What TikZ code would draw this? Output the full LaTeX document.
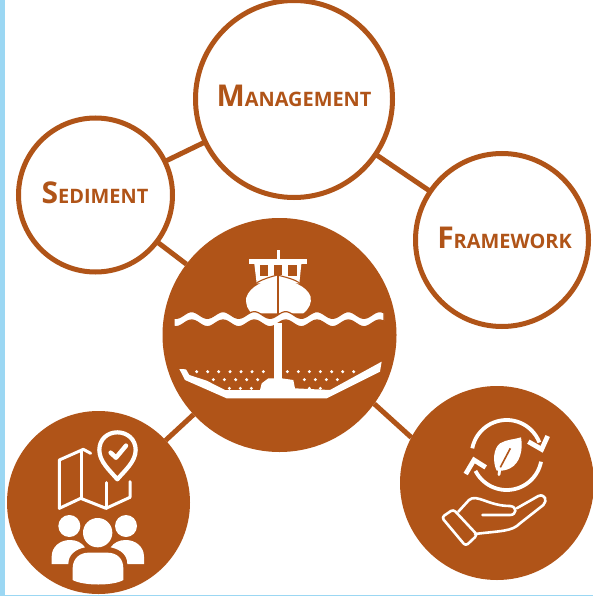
\documentclass[tikz,border=0pt]{standalone}
\usepackage{fontspec}
\setmainfont{Open Sans}
\definecolor{rust}{HTML}{B05418}
\definecolor{strip}{HTML}{9BD7F3}
\newcommand{\titlecap}[2]{{\fontsize{30}{30}\selectfont #1}{\fontsize{19.9}{19.9}\selectfont\MakeUppercase{#2}}}
\tikzset{
  ring/.style={circle,draw=rust,fill=white,line width=5pt,inner sep=0pt,outer sep=0pt},
  disc/.style={circle,fill=rust,inner sep=0pt,outer sep=0pt},
  word/.style={anchor=base,inner sep=0pt,text=rust,font=\bfseries},
  link/.style={draw=rust,line width=5pt},
  icon/.style={draw=white,line width=3pt,line cap=round,line join=round}
}
\begin{document}
\begin{tikzpicture}[x=1pt,y=-1pt]
      \useasboundingbox (0,0) rectangle (593,596);
      \clip (0,0) rectangle (593,596);
      \fill[white] (0,0) rectangle (593,596);
      \fill[strip] (0,0) rectangle (5,596);
      \fill[strip] (0,595) rectangle (593,596);
      \draw[draw=none]
        (95.5,195) node[ring,minimum size=154pt] (sediment){}
        (294,99) node[ring,minimum size=197pt] (management){}
        (502,240) node[ring,minimum size=173pt] (framework){}
        (279.5,335) node[disc,minimum size=234pt] (ship){}
        (98.5,502.5) node[disc,minimum size=183pt] (people){}
        (497,483) node[disc,minimum size=194pt] (hand){};
      \begin{scope}[-]
        \draw[link] (sediment) to (management);
        \draw[link] (management) to (framework);
        \draw[link] (sediment) to (ship);
        \draw[link] (ship) to (people);
        \draw[link] (ship.-36) to (hand.152);
      \end{scope}
      \draw[draw=none]
        (95,203) node[word] (sedimentword){\titlecap{S}{ediment}}
        (294,107) node[word] (managementword){\titlecap{M}{anagement}}
        (504.5,248) node[word] (frameworkword){\titlecap{F}{ramework}};
      % ship, seabed
      \begin{scope}[shift={(160,215)},scale=1/3]
        \fill[white] (350,105) rectangle (359,135);
        \fill[white] (268,133) rectangle (440,147);
        \fill[white] (283,147) -- (424,147) -- (418,205) -- (290,205) -- cycle;
        \fill[rust] (300,150) rectangle (325,182);
        \fill[rust] (342,150) rectangle (367,180);
        \fill[rust] (384,150) rectangle (410,182);
        \fill[white] (352,188) .. controls (315,198) and (270,210) .. (258,250)
          .. controls (258,270) and (262,282) .. (275,295)
          -- (430,295) .. controls (448,280) and (455,265) .. (452,245)
          .. controls (440,212) and (395,198) .. (356,188) -- cycle;
        \draw[rust,line width=1.1pt] (354,180) -- (354,300);
        \draw[rust,line width=1.1pt] (290,203) .. controls (310,192) and (330,186) .. (352,180)
          .. controls (375,186) and (400,192) .. (418,203);
        \filldraw[fill=white,draw=rust,line width=1.2pt]
          plot[domain=42:672,samples=120] (\x,{300-10*cos(3.83*(\x-95))})
          -- plot[domain=672:42,samples=120] (\x,{325-10*cos(3.83*(\x-95))}) -- cycle;
        \fill[white] (342,325) rectangle (365,500);
        \fill[white] (58,462) -- (78,463) -- (88,480) -- (140,497) -- (195,525) -- (300,525)
          -- (305,505) -- (325,490) -- (342,490) -- (365,490) -- (400,495) -- (405,520)
          -- (510,525) -- (665,440) -- (660,470) -- (500,550) -- (200,550) -- (75,495) -- cycle;
        \fill[white] (110,470) circle[radius=5] (143,470) circle[radius=5] (176,470) circle[radius=5]
          (210,470) circle[radius=5] (243,470) circle[radius=5] (276,470) circle[radius=5]
          (310,470) circle[radius=5] (382,470) circle[radius=5] (415,470) circle[radius=5]
          (448,470) circle[radius=5] (481,470) circle[radius=5] (515,470) circle[radius=5]
          (548,470) circle[radius=5] (581,470) circle[radius=5];
        \fill[white] (160,494) circle[radius=5] (193,494) circle[radius=5] (227,494) circle[radius=5]
          (260,494) circle[radius=5] (293,494) circle[radius=5] (433,494) circle[radius=5]
          (466,494) circle[radius=5] (499,494) circle[radius=5] (532,494) circle[radius=5];
        \fill[white] (208,520) circle[radius=5] (241,520) circle[radius=5] (274,520) circle[radius=5]
          (448,520) circle[radius=5] (481,520) circle[radius=5];
      \end{scope}
      % map, pin, group
      \begin{scope}[shift={(0,400)},scale=1/3]
        \draw[icon] (178,325) -- (178,180) -- (250,148) -- (272,160);
        \draw[icon] (245,150) -- (245,295);
        \draw[icon] (178,325) -- (242,295) -- (318,325) -- (390,292) -- (390,245);
        \draw[icon] (318,325) -- (318,248);
        \draw[icon,line width=4.2pt] (352,238) .. controls (330,212) and (298,185) .. (298,150)
          .. controls (298,118) and (322,97) .. (352,97)
          .. controls (382,97) and (407,118) .. (407,150)
          .. controls (407,185) and (374,212) .. (352,238) -- cycle;
        \draw[icon,line width=4.5pt] (332,158) -- (348,173) -- (378,137);
        \fill[white] (293,398) circle[radius=44];
        \fill[white] (208,378) circle[radius=33];
        \fill[white] (378,378) circle[radius=33];
        \fill[white] (218,540) -- (218,505) .. controls (218,475) and (240,458) .. (265,458)
          -- (322,458) .. controls (350,458) and (370,475) .. (370,505) -- (370,540)
          .. controls (340,558) and (250,558) .. (218,540) -- cycle;
        \fill[white] (155,492) -- (155,470) .. controls (155,440) and (180,420) .. (210,420)
          .. controls (230,420) and (245,428) .. (255,442)
          .. controls (225,448) and (205,465) .. (205,492) -- cycle;
        \fill[white] (432,492) -- (432,470) .. controls (432,440) and (407,420) .. (377,420)
          .. controls (357,420) and (342,428) .. (332,442)
          .. controls (362,448) and (382,465) .. (382,492) -- cycle;
      \end{scope}
      % recycling arrows, leaf, open hand
      \begin{scope}[shift={(395,380)},scale=1/3]
        \draw[icon,line width=3.8pt,line cap=butt] plot[domain=191:339,samples=40] ({335+105*cos(\x)},{225+105*sin(\x)});
        \draw[icon,line width=3.8pt,line cap=butt] plot[domain=11:153,samples=40] ({335+105*cos(\x)},{225+105*sin(\x)});
        \draw[icon,line width=4.8pt,line cap=butt,line join=miter] (400,185) -- (440,208) -- (458,168);
        \draw[icon,line width=4.8pt,line cap=butt,line join=miter] (272,262) -- (237,240) -- (212,282);
        \fill[white] (305,272) .. controls (292,245) and (295,205) .. (315,190)
          .. controls (335,178) and (360,178) .. (378,172)
          .. controls (385,210) and (375,250) .. (345,265)
          .. controls (335,270) and (320,274) .. (305,272) -- cycle;
        \draw[icon,line width=2.8pt] (312,284) -- (316,255);
        \draw[rust,line width=1.6pt] (316,262) -- (346,205);
        \draw[icon,line width=2.6pt,rounded corners=3pt] (140,412) -- (175,388) -- (247,465) -- (212,498) -- cycle;
        \draw[icon,line width=2.6pt] (190,395) -- (222,360) .. controls (245,340) and (280,378) .. (345,378)
          .. controls (368,380) and (365,405) .. (345,405) -- (262,405);
        \draw[icon,line width=2.6pt] (365,385) -- (430,348) .. controls (450,340) and (458,362) .. (445,375)
          -- (375,430) .. controls (350,455) and (320,452) .. (240,462);
      \end{scope}
    \end{tikzpicture}
\end{document}
